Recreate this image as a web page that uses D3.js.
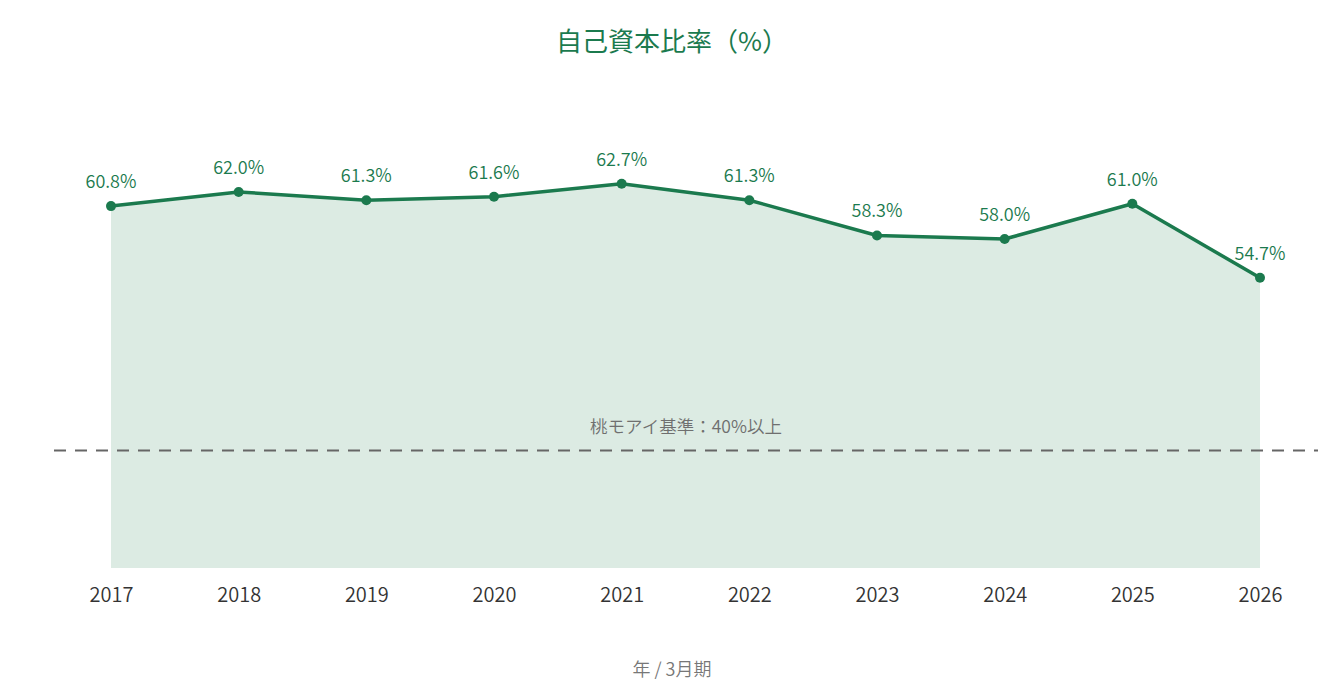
<!DOCTYPE html>
<html><head><meta charset="utf-8">
<script src="https://cdn.jsdelivr.net/npm/d3@7"></script>
<style>html,body{margin:0;padding:0;background:#fff;}svg{display:block;font-family:"Noto Sans CJK JP","Noto Sans",sans-serif;}</style>
</head><body><div id="chart"></div>
<script>
const years = ["2017","2018","2019","2020","2021","2022","2023","2024","2025","2026"];
const ratios = [60.8, 62.0, 61.3, 61.6, 62.7, 61.3, 58.3, 58.0, 61.0, 54.7];
const baseline = 40;
const baselineLabel = "桃モアイ基準：40%以上";
const titleText = "自己資本比率（%）";
const xTitle = "年 / 3月期";

const W = 1344, H = 700;
const green = "#1b7a4e";
const svg = d3.select("#chart").append("svg").attr("width", W).attr("height", H);

const x = d3.scalePoint().domain(years).range([111, 1260]);
const y = d3.scaleLinear().domain([30, 70]).range([568, 98]);

const data = years.map((yr, i) => ({yr, v: ratios[i]}));

svg.append("text").attr("x", W/2).attr("y", 51).attr("text-anchor", "middle")
  .attr("fill", green).attr("font-size", 26).attr("font-weight", 400).text(titleText);

svg.append("path").datum(data)
  .attr("d", d3.area().x(d => x(d.yr)).y0(y(30)).y1(d => y(d.v)))
  .attr("fill", "#dcebe3");

svg.append("line").attr("x1", 54).attr("x2", 1318)
  .attr("y1", y(baseline)).attr("y2", y(baseline))
  .attr("stroke", "#666").attr("stroke-width", 2).attr("stroke-dasharray", "12,9");

svg.append("text").attr("x", 686).attr("y", y(baseline) - 18).attr("text-anchor", "middle")
  .attr("fill", "#6f6f6f").attr("font-size", 17.5).attr("font-weight", 350).text(baselineLabel);

svg.append("path").datum(data)
  .attr("d", d3.line().x(d => x(d.yr)).y(d => y(d.v)))
  .attr("fill", "none").attr("stroke", green).attr("stroke-width", 3.5)
  .attr("stroke-linejoin", "round");

svg.selectAll("circle.pt").data(data).join("circle").attr("class", "pt")
  .attr("cx", d => x(d.yr)).attr("cy", d => y(d.v)).attr("r", 5).attr("fill", green);

svg.selectAll("text.lbl").data(data).join("text").attr("class", "lbl")
  .attr("x", d => x(d.yr)).attr("y", d => y(d.v) - 18).attr("text-anchor", "middle")
  .attr("fill", green).attr("font-size", 18).attr("font-weight", 350).text(d => d.v.toFixed(1) + "%");

const xAxis = svg.append("g").attr("transform", `translate(0,${y(30)})`)
  .call(d3.axisBottom(x).tickSize(0).tickPadding(20));
xAxis.select(".domain").remove();
xAxis.selectAll("text").attr("font-size", 20).attr("fill", "#333").attr("font-weight", 350)
  .attr("font-family", "'Noto Sans CJK JP','Noto Sans',sans-serif");

svg.append("text").attr("x", 672).attr("y", 676).attr("text-anchor", "middle")
  .attr("fill", "#777").attr("font-size", 18).attr("font-weight", 350).text(xTitle);
</script></body></html>
